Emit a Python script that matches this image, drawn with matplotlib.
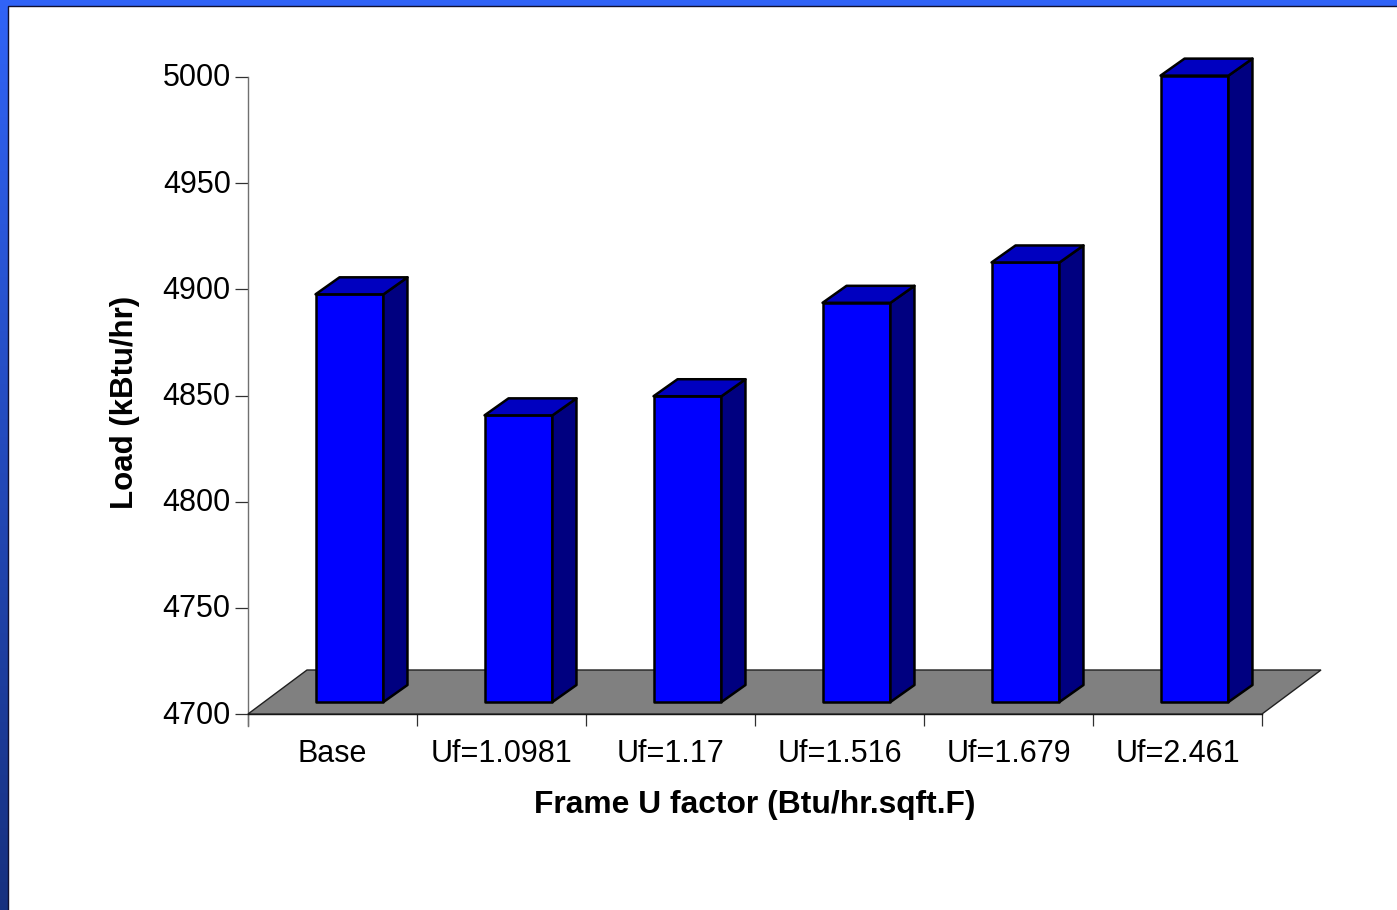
import numpy as np
import matplotlib
matplotlib.use("Agg")
import matplotlib.pyplot as plt
from matplotlib.patches import Polygon, Rectangle
from matplotlib.transforms import Affine2D

# data
labels = ["Base", "Uf=1.0981", "Uf=1.17", "Uf=1.516", "Uf=1.679", "Uf=2.461"]
loads = [4892, 4835, 4844, 4888, 4907, 4995]
yticks = [4700, 4750, 4800, 4850, 4900, 4950, 5000]

W, H = 1397, 910
plt.rcParams["font.family"] = ["Liberation Sans", "DejaVu Sans"]

fig = plt.figure(figsize=(W / 100, H / 100), dpi=100)

# slide background, blue gradient with a white panel on top
bg = fig.add_axes([0, 0, 1, 1])
grad = np.linspace(0, 1, 256)[:, None, None]
top_col = np.array([0.19, 0.39, 0.97])
bot_col = np.array([0.09, 0.19, 0.50])
bg.imshow(top_col + (bot_col - top_col) * grad, aspect="auto", extent=[0, W, H, 0])
bg.add_patch(Rectangle((7.5, 5.5), W, H, fc="white", ec="#101030", lw=1))
bg.set_xlim(0, W)
bg.set_ylim(H, 0)
bg.axis("off")

# plot area in pixels
left, right, top, bottom = 248, 1262, 77, 714
ax = fig.add_axes([left / W, 1 - bottom / H, (right - left) / W, (bottom - top) / H])
ax.patch.set_alpha(0)
ax.set_xlim(0, len(labels))
ax.set_ylim(yticks[0], yticks[-1])


def shifted(dx, dy):
    # depth in a 3d bar is just an offset in pixels
    return ax.transData + Affine2D().translate(dx, dy)


# floor
tr_back = shifted(59, 44)
front_px = ax.transData.transform([(0, 4700), (len(labels), 4700)])
back_px = tr_back.transform([(len(labels), 4700), (0, 4700)])
floor = Polygon(np.vstack([front_px, back_px]), closed=True, transform=None,
                fc="#808080", ec="#202020", lw=1, zorder=1, clip_on=False)
fig.add_artist(floor)

# bars
half = 0.201
front = shifted(17, 12)
back = shifted(41, 29)
for i, val in enumerate(loads):
    c = i + 0.5
    x0, x1 = c - half, c + half
    f = front.transform([(x0, 4700), (x1, 4700), (x1, val), (x0, val)])
    b = back.transform([(x0, 4700), (x1, 4700), (x1, val), (x0, val)])
    faces = [
        (f, "#0000ff"),
        ([f[1], b[1], b[2], f[2]], "#000080"),
        ([f[3], f[2], b[2], b[3]], "#0000c0"),
    ]
    for pts, col in faces:
        fig.add_artist(Polygon(pts, closed=True, transform=None, fc=col, ec="black",
                               lw=1.8, joinstyle="round", zorder=3, clip_on=False))

# axes
for side in ["top", "right"]:
    ax.spines[side].set_visible(False)
ax.spines["left"].set_color("#707070")
ax.spines["left"].set_linewidth(1)
ax.spines["left"].set_bounds(yticks[0] - 12 / 2.123, yticks[-1])
ax.spines["bottom"].set_color("black")
ax.spines["bottom"].set_linewidth(1)

ax.set_yticks(yticks)
ax.tick_params(axis="y", length=9.5, width=0.9, color="#303030", labelsize=22, pad=3)
for lab in ax.get_yticklabels():
    lab.set_transform(lab.get_transform() + Affine2D().translate(0, 2))
ax.set_xticks(np.arange(len(labels) + 1))
ax.set_xticklabels([])
ax.tick_params(axis="x", which="major", length=8.5, width=0.9, color="#303030")
ax.set_xticks(np.arange(len(labels)) + 0.5, labels, minor=True)
ax.tick_params(axis="x", which="minor", length=0, labelsize=22, pad=18)

fig.text(755 / W, 1 - 805 / H, "Frame U factor (Btu/hr.sqft.F)", fontsize=22.9,
         fontweight="bold", ha="center", va="center")
fig.text(125 / W, 1 - 402 / H, "Load (kBtu/hr)", fontsize=22.5, fontweight="bold",
         rotation=90, ha="center", va="center")

fig.savefig("out.png", dpi=100)
